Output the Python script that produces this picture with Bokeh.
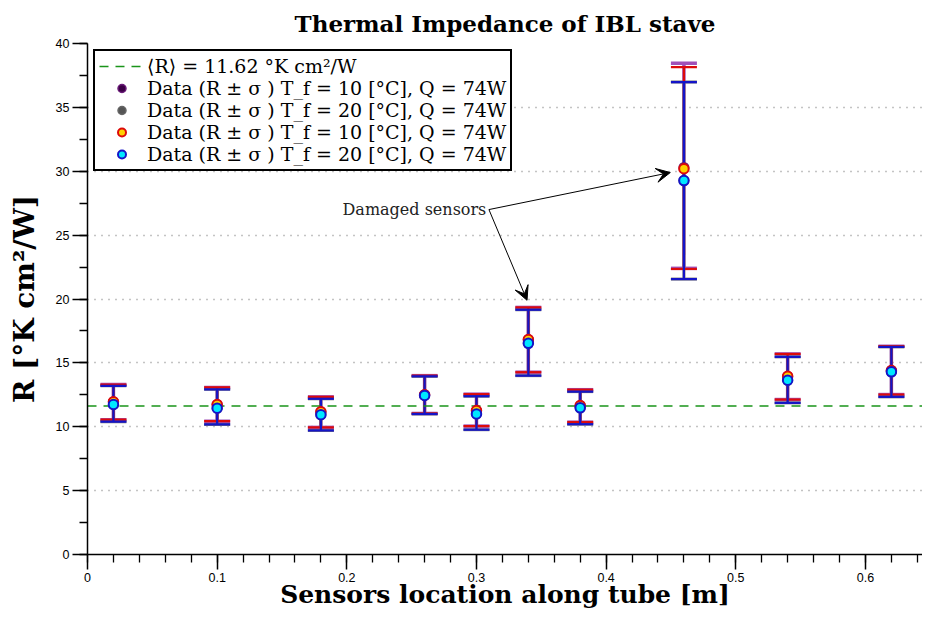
from bokeh.plotting import figure
from bokeh.models import (ColumnDataSource, Whisker, TeeHead, Legend, LegendItem,
                          Arrow, VeeHead, Label, Range1d, SingleIntervalTicker)
from bokeh.embed import file_html
from bokeh.resources import INLINE

# ---------------- data ----------------
location = [0.02, 0.10, 0.18, 0.26, 0.30, 0.34, 0.38, 0.46, 0.54, 0.62]

# series 1 : T_f = 10 C (dark purple)
r_s1 = [11.95, 11.74, 11.17, 12.50, 11.27, 16.82, 11.66, 30.30, 13.95, 14.40]
lo_s1 = [10.55, 10.44, 9.95, 11.04, 10.05, 14.27, 10.36, 22.40, 12.13, 12.52]
hi_s1 = [13.30, 13.08, 12.34, 14.00, 12.55, 19.34, 12.90, 38.45, 15.70, 16.30]

# series 2 : T_f = 20 C (grey)
r_s2 = [11.74, 11.45, 10.94, 12.45, 11.00, 16.53, 11.48, 29.27, 13.64, 14.30]
lo_s2 = [10.40, 10.18, 9.71, 11.00, 9.77, 14.00, 10.20, 21.56, 11.87, 12.34]
hi_s2 = [13.20, 12.93, 12.19, 13.95, 12.39, 19.16, 12.75, 36.98, 15.47, 16.25]

# series 3 : T_f = 10 C (yellow / red)
r_s3 = [11.95, 11.74, 11.17, 12.50, 11.27, 16.82, 11.66, 30.20, 13.95, 14.40]
lo_s3 = [10.55, 10.44, 9.95, 11.04, 10.05, 14.27, 10.36, 22.35, 12.13, 12.52]
hi_s3 = [13.30, 13.08, 12.34, 14.00, 12.55, 19.34, 12.90, 38.15, 15.70, 16.30]

# series 4 : T_f = 20 C (cyan / blue)
r_s4 = [11.74, 11.45, 10.94, 12.45, 11.00, 16.53, 11.48, 29.27, 13.64, 14.30]
lo_s4 = [10.40, 10.18, 9.71, 11.00, 9.77, 14.00, 10.20, 21.56, 11.87, 12.34]
hi_s4 = [13.20, 12.93, 12.19, 13.95, 12.39, 19.16, 12.75, 36.98, 15.47, 16.25]

r_mean = 11.62
x_limits = [0.0, 0.644]
y_limits = [0.0, 40.0]

mean_label = "⟨R⟩ = 11.62 °K cm²/W"
series_labels = [
    "Data (R ± σ ) T_f = 10 [°C], Q = 74W",
    "Data (R ± σ ) T_f = 20 [°C], Q = 74W",
    "Data (R ± σ ) T_f = 10 [°C], Q = 74W",
    "Data (R ± σ ) T_f = 20 [°C], Q = 74W",
]

# annotation anchor points (data units)
note_text = "Damaged sensors"
note_xy = (0.3076, 27.0)
arrow_targets = [(0.339, 19.9), (0.4495, 29.9)]

SERIF = "DejaVu Serif"
SANS = "Liberation Sans"

# ---------------- figure ----------------
p = figure(width=922, height=611,
           x_range=Range1d(*x_limits), y_range=Range1d(*y_limits),
           output_backend="svg", toolbar_location=None,
           title="Thermal Impedance of IBL stave")
p.min_border_left = 87
p.min_border_right = 0
p.min_border_top = 43
p.min_border_bottom = 0
p.outline_line_color = None
p.background_fill_color = "white"
p.border_fill_color = "white"

p.title.align = "center"
p.title.text_font = SERIF
p.title.text_font_style = "bold"
p.title.text_font_size = "23px"
p.title.text_color = "black"
p.title.standoff = 13

p.xaxis.ticker = SingleIntervalTicker(interval=0.1, num_minor_ticks=5)
p.yaxis.ticker = SingleIntervalTicker(interval=5, num_minor_ticks=2)

for ax in (p.xaxis, p.yaxis):
    ax.axis_line_width = 1.5
    ax.axis_line_color = "black"
    ax.major_tick_line_width = 1.5
    ax.minor_tick_line_width = 1.3
    ax.major_tick_line_color = "black"
    ax.minor_tick_line_color = "black"
    ax.major_tick_in = 0
    ax.minor_tick_in = 0
    ax.major_tick_out = 15
    ax.minor_tick_out = 8
    ax.major_label_text_font = SANS
    ax.major_label_text_font_size = "12.5px"
    ax.major_label_text_color = "black"
    ax.axis_label_text_font = SERIF
    ax.axis_label_text_font_style = "bold"
    ax.axis_label_text_color = "black"

p.xaxis.axis_label = "Sensors location along tube [m]"
p.yaxis.axis_label = "R [°K cm²/W]"
p.xaxis.axis_label_text_font_size = "25px"
p.yaxis.axis_label_text_font_size = "28px"
p.xaxis.major_label_standoff = 3
p.yaxis.major_label_standoff = 3
p.xaxis.axis_label_standoff = -5
p.yaxis.axis_label_standoff = 12

p.xgrid.visible = False
p.ygrid.grid_line_color = "#888888"
p.ygrid.grid_line_dash = "1 6"
p.ygrid.grid_line_width = 1.3

# mean line
mean_r = p.line(x=x_limits, y=[r_mean, r_mean], line_color="#1a941a",
                line_width=1.6, line_dash="9 7")

BLUE = "#1414c8"
RED = "#dd0a0a"
PURPLE = "#a050b8"
GREY = "#777777"


def add_whisker(lower, upper, color, width):
    src = ColumnDataSource(dict(x=location, lower=lower, upper=upper))
    w = Whisker(source=src, base="x", lower="lower", upper="upper",
                line_color=color, line_width=width,
                upper_head=TeeHead(size=26, line_color=color, line_width=width),
                lower_head=TeeHead(size=26, line_color=color, line_width=width))
    p.add_layout(w)


add_whisker(lo_s1, hi_s1, PURPLE, 3.5)
add_whisker(lo_s2, hi_s2, GREY, 3.0)
add_whisker(lo_s3, hi_s3, RED, 2.2)
add_whisker(lo_s4, hi_s4, BLUE, 2.2)

s1 = p.scatter(location, r_s1, size=9.5, fill_color="#3c0046", line_color="#6a1a78", line_width=1.5)
s2 = p.scatter(location, r_s2, size=9.5, fill_color="#555555", line_color="#666666", line_width=1.5)
s3 = p.scatter(location, r_s3, size=9.5, fill_color="#ffd000", line_color=RED, line_width=2)
s4 = p.scatter(location, r_s4, size=9.5, fill_color="#00e8ff", line_color=BLUE, line_width=2)

# annotations
p.add_layout(Label(x=note_xy[0], y=note_xy[1], text=note_text, text_align="right",
                   text_baseline="middle", text_font=SERIF, text_font_size="16px",
                   text_color="#222222"))
for tx, ty in arrow_targets:
    p.add_layout(Arrow(end=VeeHead(size=14, fill_color="black", line_color="black", line_width=1),
                       x_start=note_xy[0] + 0.002, y_start=note_xy[1],
                       x_end=tx, y_end=ty, line_color="black", line_width=1))

legend = Legend(items=[
    LegendItem(label=mean_label, renderers=[mean_r]),
    LegendItem(label=series_labels[0], renderers=[s1]),
    LegendItem(label=series_labels[1], renderers=[s2]),
    LegendItem(label=series_labels[2], renderers=[s3]),
    LegendItem(label=series_labels[3], renderers=[s4]),
], location="top_left")
legend.margin = 6
legend.padding = 4
legend.spacing = 0
legend.border_line_color = "black"
legend.border_line_width = 2
legend.border_line_alpha = 1.0
legend.background_fill_alpha = 1.0
legend.label_text_font = SERIF
legend.label_text_font_size = "19px"
legend.label_text_color = "black"
legend.glyph_width = 45
legend.glyph_height = 20
legend.label_height = 20
legend.label_standoff = 3
p.add_layout(legend)

open("out.html", "w").write(file_html(p, INLINE))
